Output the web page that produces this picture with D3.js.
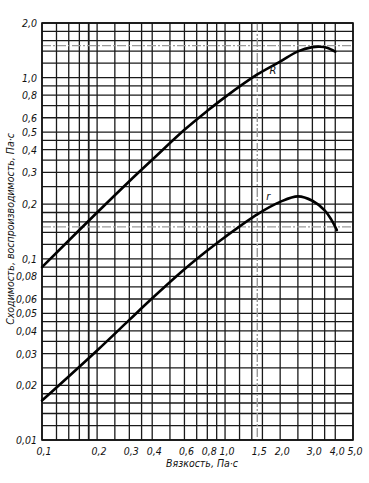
<!DOCTYPE html>
<html><head><meta charset="utf-8">
<script src="https://cdn.jsdelivr.net/npm/d3@7"></script>
<style>
html,body{margin:0;padding:0;background:#fff;}
text{font-family:"Liberation Sans Narrow","DejaVu Sans Condensed","Liberation Sans",sans-serif;font-style:italic;fill:#111;}
</style></head>
<body>
<svg id="chart" width="369" height="483"></svg>
<script>
// grid values
const xGrid = [0.1,0.12,0.14,0.16,0.18,0.2,0.25,0.3,0.35,0.4,0.5,0.6,0.7,0.8,0.9,1.0,1.2,1.4,1.6,2.0,2.5,3.0,3.5,4.0,5.0];
const yGrid = [0.01,0.012,0.014,0.016,0.018,0.02,0.025,0.03,0.035,0.04,0.045,0.05,0.06,0.07,0.08,0.09,0.1,0.12,0.14,0.16,0.18,0.2,0.25,0.3,0.35,0.4,0.45,0.5,0.6,0.7,0.8,0.9,1.0,1.2,1.4,1.6,1.8,2.0];
// tick labels
const xTicks = [0.1,0.2,0.3,0.4,0.6,0.8,1.0,1.5,2.0,3.0,4.0,5.0];
const xTickLabels = ["0,1","0,2","0,3","0,4","0,6","0,8","1,0","1,5","2,0","3,0","4,0","5,0"];
const yTicks = [0.01,0.02,0.03,0.04,0.05,0.06,0.08,0.1,0.2,0.3,0.4,0.5,0.6,0.8,1.0,2.0];
const yTickLabels = ["0,01","0,02","0,03","0,04","0,05","0,06","0,08","0,1","0,2","0,3","0,4","0,5","0,6","0,8","1,0","2,0"];
// reference (dashed) lines
const xRef = [1.5];
const yRef = [0.15, 1.5];
// curve R
const rBigX = [0.1,0.2,0.3,0.4,0.6,0.8,1.0,1.5,2.0,2.5,3.0,3.3,3.6,4.0];
const rBigY = [0.09,0.18,0.268,0.352,0.515,0.655,0.78,1.04,1.225,1.395,1.472,1.48,1.462,1.39];
// curve r
const rSmallX = [0.1,0.2,0.3,0.4,0.6,0.8,1.0,1.5,2.0,2.5,3.0,3.5,3.8,4.08];
const rSmallY = [0.0165,0.0312,0.046,0.0605,0.0875,0.111,0.132,0.176,0.206,0.221,0.209,0.185,0.165,0.144];
const curveNames = ["R","r"];

const svg = d3.select("#chart");
const x = d3.scaleLog().domain([0.1,5.0]).range([42,353]);
const y = d3.scaleLog().domain([0.01,2.0]).range([440,23]);

const g = svg.append("g");
// grid
g.selectAll(".vg").data(xGrid).enter().append("line")
  .attr("x1",d=>x(d)).attr("x2",d=>x(d)).attr("y1",y(2.0)).attr("y2",y(0.01))
  .attr("stroke","#1a1a1a").attr("stroke-width",d=>d===0.18?1.8:1.3);
g.selectAll(".hg").data(yGrid).enter().append("line")
  .attr("y1",d=>y(d)).attr("y2",d=>y(d)).attr("x1",x(0.1)).attr("x2",x(5.0))
  .attr("stroke","#1a1a1a").attr("stroke-width",1.3);
// dashed reference lines
g.selectAll(".vr").data(xRef).enter().append("line")
  .attr("x1",d=>x(d)).attr("x2",d=>x(d)).attr("y1",y(2.0)).attr("y2",y(0.01))
  .attr("stroke","#999").attr("stroke-width",1.4).attr("stroke-dasharray","9,2,2,2");
g.selectAll(".hr").data(yRef).enter().append("line")
  .attr("y1",d=>y(d)).attr("y2",d=>y(d)).attr("x1",x(0.1)).attr("x2",x(5.0))
  .attr("stroke","#999").attr("stroke-width",1.4).attr("stroke-dasharray","9,2,2,2");
// frame
g.append("rect").attr("x",x(0.1)).attr("y",y(2.0)).attr("width",x(5.0)-x(0.1)).attr("height",y(0.01)-y(2.0))
  .attr("fill","none").attr("stroke","#111").attr("stroke-width",1.6);

// curves
const line = d3.line().x(d=>x(d[0])).y(d=>y(d[1])).curve(d3.curveCatmullRom.alpha(0.5));
const curves = [d3.zip(rBigX,rBigY), d3.zip(rSmallX,rSmallY)];
g.selectAll(".crv").data(curves).enter().append("path")
  .attr("d",line).attr("fill","none").attr("stroke","#000").attr("stroke-width",2.6).attr("stroke-linecap","round");

// curve labels
g.append("text").attr("x",x(1.75)).attr("y",y(1.05)).attr("font-size",11).text(curveNames[0]);
g.append("text").attr("x",x(1.68)).attr("y",y(0.21)).attr("font-size",11).text(curveNames[1]);

// tick labels
g.selectAll(".xt").data(xTicks).enter().append("text")
  .attr("x",d=>x(d)+2).attr("y",y(0.01)+15).attr("text-anchor","middle").attr("font-size",10.5)
  .text((d,i)=>xTickLabels[i]);
g.selectAll(".yt").data(yTicks).enter().append("text")
  .attr("x",x(0.1)-5).attr("y",d=>y(d)+4).attr("text-anchor","end").attr("font-size",10.5)
  .text((d,i)=>yTickLabels[i]);

// axis titles
g.append("text").attr("x",202).attr("y",467).attr("text-anchor","middle").attr("font-size",10.5).text("Вязкость, Па·с");
g.append("text").attr("transform","translate(14,229) rotate(-90)").attr("text-anchor","middle").attr("font-size",10.5)
  .text("Сходимость, воспроизводимость, Па·с");
</script>
</body></html>
